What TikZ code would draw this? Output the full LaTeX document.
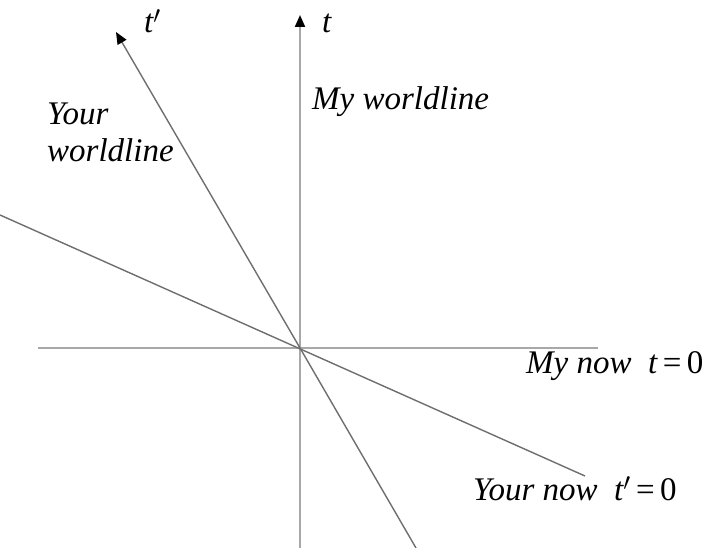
\documentclass[tikz,border=0pt]{standalone}
\usepackage{fontspec}
\setmainfont{Liberation Serif}[ItalicFont={Liberation Serif Italic}]
\usepackage{tikz}
\usetikzlibrary{arrows.meta}
\definecolor{axisgray}{HTML}{A8A8A8}
\definecolor{linegray}{HTML}{6E6E6E}

\begin{document}
\begin{tikzpicture}[
  x=1pt, y=-1pt,
  axis/.style={draw=axisgray, line width=2pt},
  wline/.style={draw=linegray, line width=1.4pt},
  tip/.style={-{Triangle[length=12pt,width=10pt,color=black]}},
  lbl/.style={anchor=base west, inner sep=0pt, font=\fontsize{33}{38}\selectfont\itshape}
]
\useasboundingbox (0,0) rectangle (709,548);

% frame points
\coordinate (o) at (300,348);
\coordinate (tbot) at (300,548);
\coordinate (ttop) at (300,15);
\coordinate (xl) at (38,348);
\coordinate (xr) at (598,348);
\coordinate (tptop) at (116,32);
\coordinate (tpbot) at (416,548);
\coordinate (nl) at (0,215);
\coordinate (nr) at (585,476);

\draw[axis] (xl) -- (xr);
\draw[axis] (tbot) -- (o);
\draw[axis, tip] (o) -- (ttop);
\draw[wline] (nl) -- (nr);
\draw[wline] (tpbot) -- (o);
\draw[wline, tip] (o) -- (tptop);

\node[lbl] (tlab) at (322,33) {t};
\node[lbl] (tplab) at (144,33) {t$'$};
\node[lbl] (mywl) at (312,110) {My worldline};
\node[lbl] (yourwl1) at (47,125) {Your};
\node[lbl] (yourwl2) at (47,162) {worldline};
\node[lbl] (mynow) at (526,373) {My now\enspace t\,{\upshape=}\,{\upshape 0}};
\node[lbl] (yournow) at (473,500) {Your now\enspace t$'$\,{\upshape=}\,{\upshape 0}};
\end{tikzpicture}
\end{document}
